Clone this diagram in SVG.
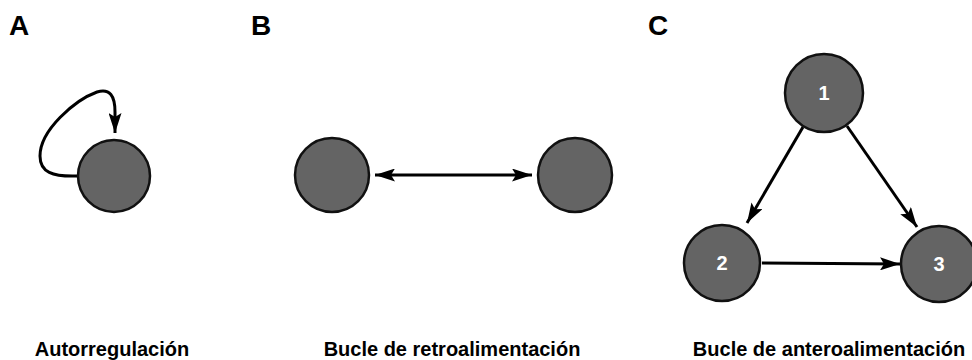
<svg xmlns="http://www.w3.org/2000/svg" width="972" height="360" viewBox="0 0 972 360">
<style>
.node{fill:#646464;stroke:#111;stroke-width:2.5}
.edge{fill:none;stroke:#000;stroke-width:3}
.num{font-family:"Liberation Sans",Arial,sans-serif;font-weight:bold;font-size:20px;fill:#fff;text-anchor:middle}
.panel{font-family:"Liberation Sans",Arial,sans-serif;font-weight:bold;font-size:28px;fill:#000}
.cap{font-family:"Liberation Sans",Arial,sans-serif;font-weight:bold;font-size:20px;fill:#000;text-anchor:middle}
</style>
<defs>
<marker id="ah" viewBox="0 0 10 10" refX="10" refY="5" markerWidth="20" markerHeight="13" markerUnits="userSpaceOnUse" orient="auto-start-reverse" preserveAspectRatio="none">
<path d="M0,0 L10,5 L0,10 L2,5 z" fill="#000"/>
</marker>
</defs>
<rect width="972" height="360" fill="#fff"/>
<text class="panel" x="9" y="35">A</text>
<text class="panel" x="251" y="35">B</text>
<text class="panel" x="648" y="35">C</text>
<g id="connectors">
<path class="edge" d="M78,176 C52,177 40,172 40,156 C40,130 75,100 97,92 C110,88 115,96 115,112 L115,133" marker-end="url(#ah)"/>
<line class="edge" x1="375" y1="175" x2="532" y2="175" marker-start="url(#ah)" marker-end="url(#ah)"/>
<line class="edge" x1="803" y1="127" x2="747" y2="223" marker-end="url(#ah)"/>
<line class="edge" x1="847" y1="126" x2="917" y2="227" marker-end="url(#ah)"/>
<line class="edge" x1="762" y1="263" x2="900" y2="264" marker-end="url(#ah)"/>
</g>
<g id="nodeA"><circle class="node" cx="114" cy="176" r="36"/></g>
<g id="nodeB1"><circle class="node" cx="332" cy="175" r="37"/></g>
<g id="nodeB2"><circle class="node" cx="575" cy="175" r="37"/></g>
<g id="node1"><circle class="node" cx="824" cy="93" r="39"/><text class="num" x="824" y="100">1</text></g>
<g id="node2"><circle class="node" cx="722" cy="263" r="38"/><text class="num" x="722" y="270">2</text></g>
<g id="node3"><circle class="node" cx="939" cy="264" r="38"/><text class="num" x="939" y="271">3</text></g>
<text class="cap" x="112" y="356">Autorregulación</text>
<text class="cap" x="452" y="356">Bucle de retroalimentación</text>
<text class="cap" x="829" y="356">Bucle de anteroalimentación</text>
</svg>
